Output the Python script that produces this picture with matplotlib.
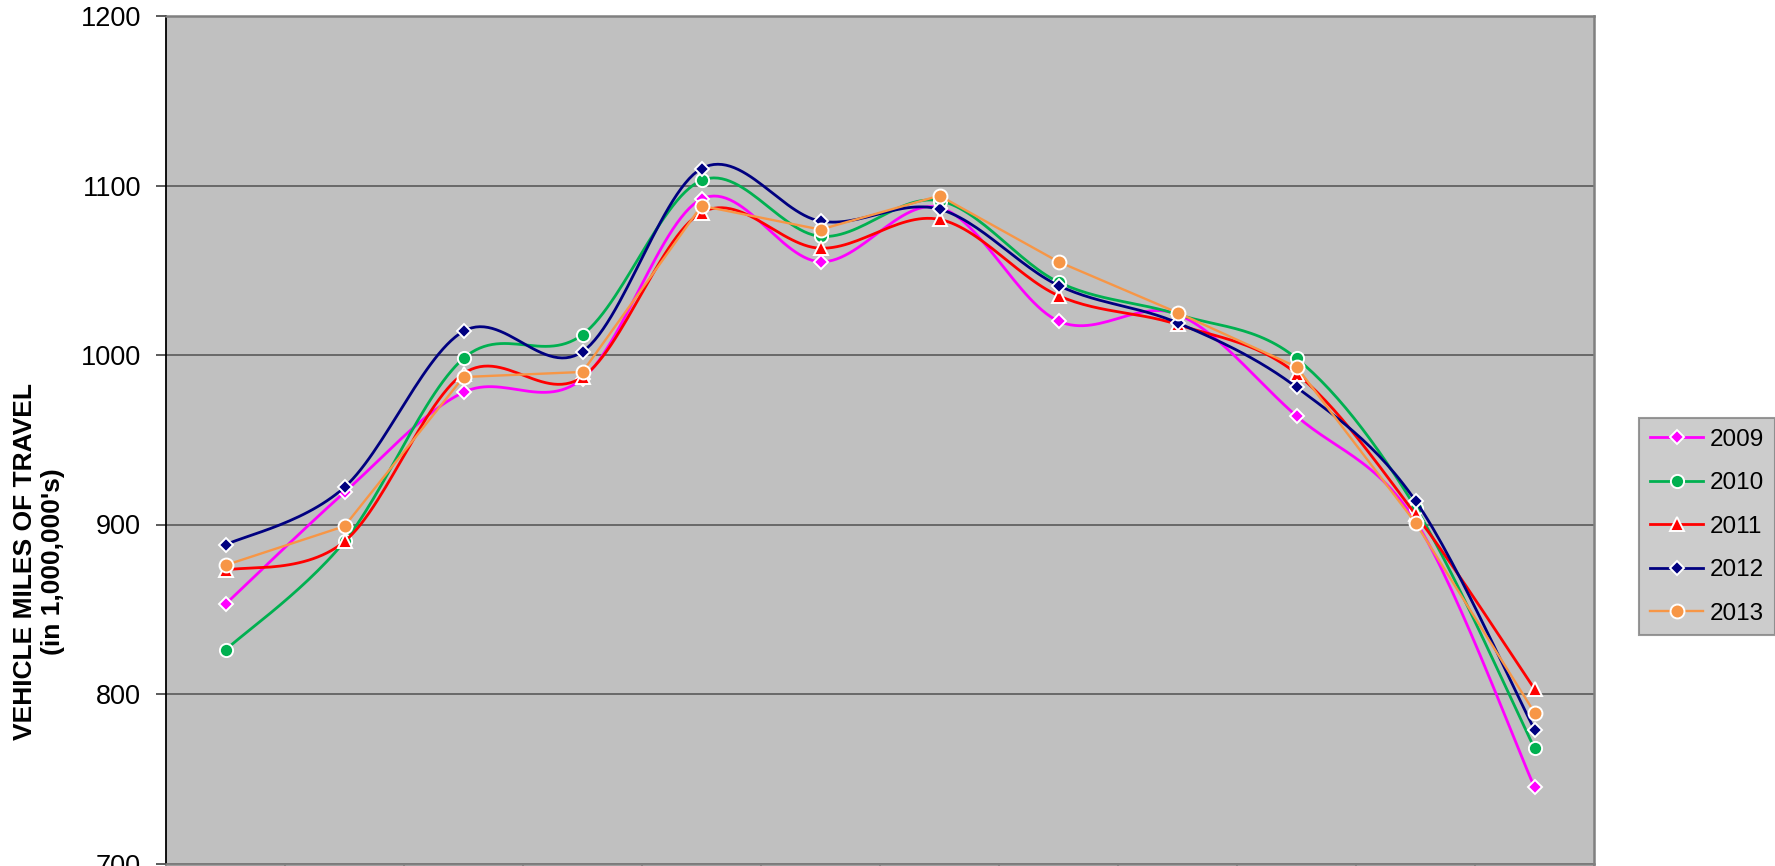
"""
Monthly vehicle miles of travel, 2009-2013, Excel style smoothed lines
"""

import numpy as np
import matplotlib
matplotlib.use("Agg")
import matplotlib.pyplot as plt
from matplotlib.lines import Line2D

plt.rcParams["font.family"] = ["Liberation Sans", "DejaVu Sans"]

# one point per month, Jan..Dec
months = ["Jan", "Feb", "Mar", "Apr", "May", "Jun",
          "Jul", "Aug", "Sep", "Oct", "Nov", "Dec"]

years = ["2009", "2010", "2011", "2012", "2013"]
vmt_2009 = [853, 919, 978, 986, 1092, 1055, 1087, 1020, 1024, 964, 902, 745]
vmt_2010 = [826, 890, 998, 1012, 1103, 1070, 1091, 1043, 1024, 998, 910, 768]
vmt_2011 = [873, 890, 989, 987, 1084, 1063, 1080, 1035, 1018, 989, 906, 803]
vmt_2012 = [888, 922, 1014, 1002, 1110, 1079, 1086, 1041, 1019, 981, 914, 779]
vmt_2013 = [876, 899, 987, 990, 1088, 1074, 1094, 1055, 1025, 993, 901, 789]

y_ticks = [700, 800, 900, 1000, 1100, 1200]


def smooth(x, y, steps=30):
    """
    Catmull-Rom style bezier through the points (what Excel calls a smoothed line)
    """
    x = np.asarray(x, dtype=float)
    y = np.asarray(y, dtype=float)
    px = np.concatenate(([x[0]], x, [x[-1]]))
    py = np.concatenate(([y[0]], y, [y[-1]]))
    t = np.linspace(0, 1, steps)
    out_x, out_y = [], []
    for i in range(1, len(x)):
        x0, x1, x2, x3 = px[i - 1], px[i], px[i + 1], px[i + 2]
        y0, y1, y2, y3 = py[i - 1], py[i], py[i + 1], py[i + 2]
        c1x, c1y = x1 + (x2 - x0) / 6, y1 + (y2 - y0) / 6
        c2x, c2y = x2 - (x3 - x1) / 6, y2 - (y3 - y1) / 6
        b0 = (1 - t) ** 3
        b1 = 3 * (1 - t) ** 2 * t
        b2 = 3 * (1 - t) * t ** 2
        b3 = t ** 3
        out_x.append(b0 * x1 + b1 * c1x + b2 * c2x + b3 * x2)
        out_y.append(b0 * y1 + b1 * c1y + b2 * c2y + b3 * y2)
    return np.concatenate(out_x), np.concatenate(out_y)


series = [
    (vmt_2009, "#FF00FF", "D", 7.5, True, 2.0),
    (vmt_2010, "#00B050", "o", 9.5, True, 2.0),
    (vmt_2011, "#FF0000", "^", 9.5, True, 2.0),
    (vmt_2012, "#000080", "D", 7.5, True, 2.0),
    (vmt_2013, "#F79646", "o", 10.0, False, 1.7),
]

fig = plt.figure(figsize=(17.75, 8.66), dpi=100)
ax = fig.add_axes([166 / 1775, 1 - 863.5 / 866, (1594 - 166) / 1775, (863.5 - 16) / 866])
ax.set_facecolor("#C0C0C0")

x = np.arange(len(months)) + 0.5
handles = []
for i, (vals, color, marker, ms, smoothed, lw) in enumerate(series):
    if smoothed:
        sx, sy = smooth(x, vals)
    else:
        sx, sy = x, np.asarray(vals)
    ax.plot(sx, sy, color=color, lw=lw, zorder=3 + i, solid_capstyle="round")
    ax.plot(x, vals, linestyle="none", marker=marker, ms=ms, mfc=color,
            mec="white", mew=1.4, zorder=3 + i, clip_on=False)
    handles.append(Line2D([], [], color=color, lw=lw, marker=marker, ms=ms,
                          mfc=color, mec="white", mew=1.4))

ax.set_xlim(0, len(months))
ax.set_ylim(700, 1200)
ax.set_yticks(y_ticks)
ax.set_xticks(np.arange(len(months) + 1))
ax.set_xticklabels([])
ax.tick_params(axis="y", direction="out", length=7, width=1.2, color="#404040",
               labelsize=19.5, pad=11)
ax.tick_params(axis="x", direction="out", length=7, width=1.2, color="#808080")
ax.yaxis.grid(True, color="#505050", lw=1.1)
ax.set_axisbelow(True)

ax.spines["left"].set_color("black")
ax.spines["left"].set_linewidth(1.3)
for side in ["top", "right", "bottom"]:
    ax.spines[side].set_color("#808080")
    ax.spines[side].set_linewidth(1.8)

fig.text(39 / 1775, 1 - 562 / 866, "VEHICLE MILES OF TRAVEL\n(in 1,000,000's)",
         rotation=90, ha="center", va="center", fontsize=19, fontweight="bold",
         linespacing=1.22, multialignment="center")

leg = fig.legend(handles, years, loc="upper left",
                 bbox_to_anchor=(1639 / 1775, 1 - 418 / 866),
                 fontsize=17.5, frameon=True, fancybox=False, borderaxespad=0,
                 handlelength=2.2, handletextpad=0.25, labelspacing=0.88,
                 borderpad=0.45, numpoints=1)
leg.get_frame().set_facecolor("#C0C0C0")
leg.get_frame().set_edgecolor("#808080")
leg.get_frame().set_linewidth(1.5)

fig.savefig("out.png", dpi=100)
